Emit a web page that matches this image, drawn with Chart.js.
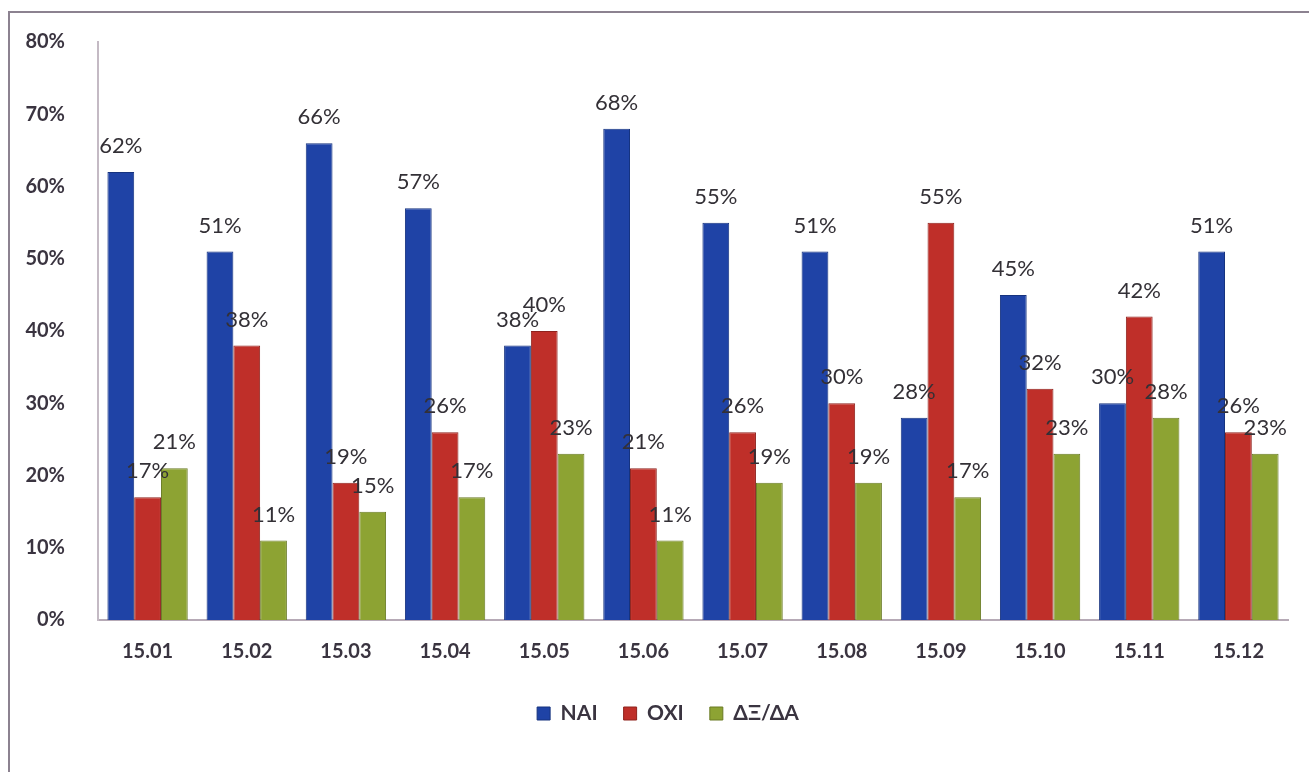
<!DOCTYPE html>
<html>
<head>
<meta charset="utf-8">
<script src="https://cdn.jsdelivr.net/npm/chart.js@4"></script>
<style>
    html, body { margin: 0; padding: 0; background: #fff; }
    #wrap { position: relative; width: 1309px; height: 772px; }
</style>
</head>
<body>
<div id="wrap"><canvas id="chart" width="1309" height="772"></canvas></div>
<script>
// 数据
const months = ['15.01', '15.02', '15.03', '15.04', '15.05', '15.06', '15.07', '15.08', '15.09', '15.10', '15.11', '15.12'];
const naiValues = [62, 51, 66, 57, 38, 68, 55, 51, 28, 45, 30, 51];
const oxiValues = [17, 38, 19, 26, 40, 21, 26, 30, 55, 32, 42, 26];
const dkValues = [21, 11, 15, 17, 23, 11, 19, 19, 17, 23, 28, 23];
const seriesNames = ['NAI', 'OXI', 'ΔΞ/ΔΑ'];

const textColor = '#3a3440';
const fontFamily = 'Lato, "Open Sans", sans-serif';

// 边框线
const frameLines = {
    id: 'frameLines',
    beforeDraw(chart) {
        const ctx = chart.ctx;
        ctx.save();
        ctx.strokeStyle = '#8c8290';
        ctx.lineWidth = 2;
        ctx.beginPath();
        ctx.moveTo(9, 772);
        ctx.lineTo(9, 12);
        ctx.lineTo(1309, 12);
        ctx.stroke();
        ctx.restore();

        // 图例稍微右移
        const legend = chart.legend;
        if (legend && !legend._shifted) {
            legend.left += 24;
            legend.right += 24;
            legend._shifted = true;
        }
    }
};

// 数值标签
const valueLabels = {
    id: 'valueLabels',
    afterDatasetsDraw(chart) {
        const ctx = chart.ctx;
        ctx.save();
        ctx.font = '22px ' + fontFamily;
        ctx.fillStyle = '#333036';
        ctx.textAlign = 'center';
        ctx.textBaseline = 'middle';
        chart.data.datasets.forEach((ds, i) => {
            chart.getDatasetMeta(i).data.forEach((bar, j) => {
                ctx.fillText(ds.data[j] + '%', bar.x, bar.y - 26);
            });
        });
        ctx.restore();
    }
};

new Chart(document.getElementById('chart').getContext('2d'), {
    type: 'bar',
    data: {
        labels: months,
        datasets: [
            { label: seriesNames[0], data: naiValues, backgroundColor: '#1f43a6', borderColor: '#16337f', borderWidth: 1 },
            { label: seriesNames[1], data: oxiValues, backgroundColor: '#bf2f29', borderColor: '#8f221d', borderWidth: 1 },
            { label: seriesNames[2], data: dkValues, backgroundColor: '#8da333', borderColor: '#6a7b25', borderWidth: 1 }
        ]
    },
    options: {
        responsive: false,
        animation: false,
        layout: { padding: { left: 0, right: 21, top: 42, bottom: 38 } },
        datasets: { bar: { categoryPercentage: 0.81, barPercentage: 1.0 } },
        plugins: {
            legend: {
                position: 'bottom',
                labels: {
                    color: textColor,
                    boxWidth: 13,
                    boxHeight: 13,
                    padding: 26,
                    font: { family: fontFamily, size: 21, weight: 'bold' }
                }
            },
            tooltip: { enabled: false }
        },
        scales: {
            x: {
                grid: { display: false },
                border: { display: true, color: '#b6aab6', width: 2 },
                ticks: {
                    color: textColor,
                    padding: 12,
                    font: { family: fontFamily, size: 20, weight: 'bold' }
                },
                afterFit: scale => { scale.height = 57; }
            },
            y: {
                min: 0,
                max: 80,
                grid: { display: false },
                border: { display: true, color: '#c4bac4', width: 2 },
                ticks: {
                    stepSize: 10,
                    color: textColor,
                    padding: 25,
                    font: { family: fontFamily, size: 20, weight: 'bold' },
                    callback: v => v + '%'
                },
                afterFit: scale => { scale.width = 98; }
            }
        }
    },
    plugins: [frameLines, valueLabels]
});
</script>
</body>
</html>
